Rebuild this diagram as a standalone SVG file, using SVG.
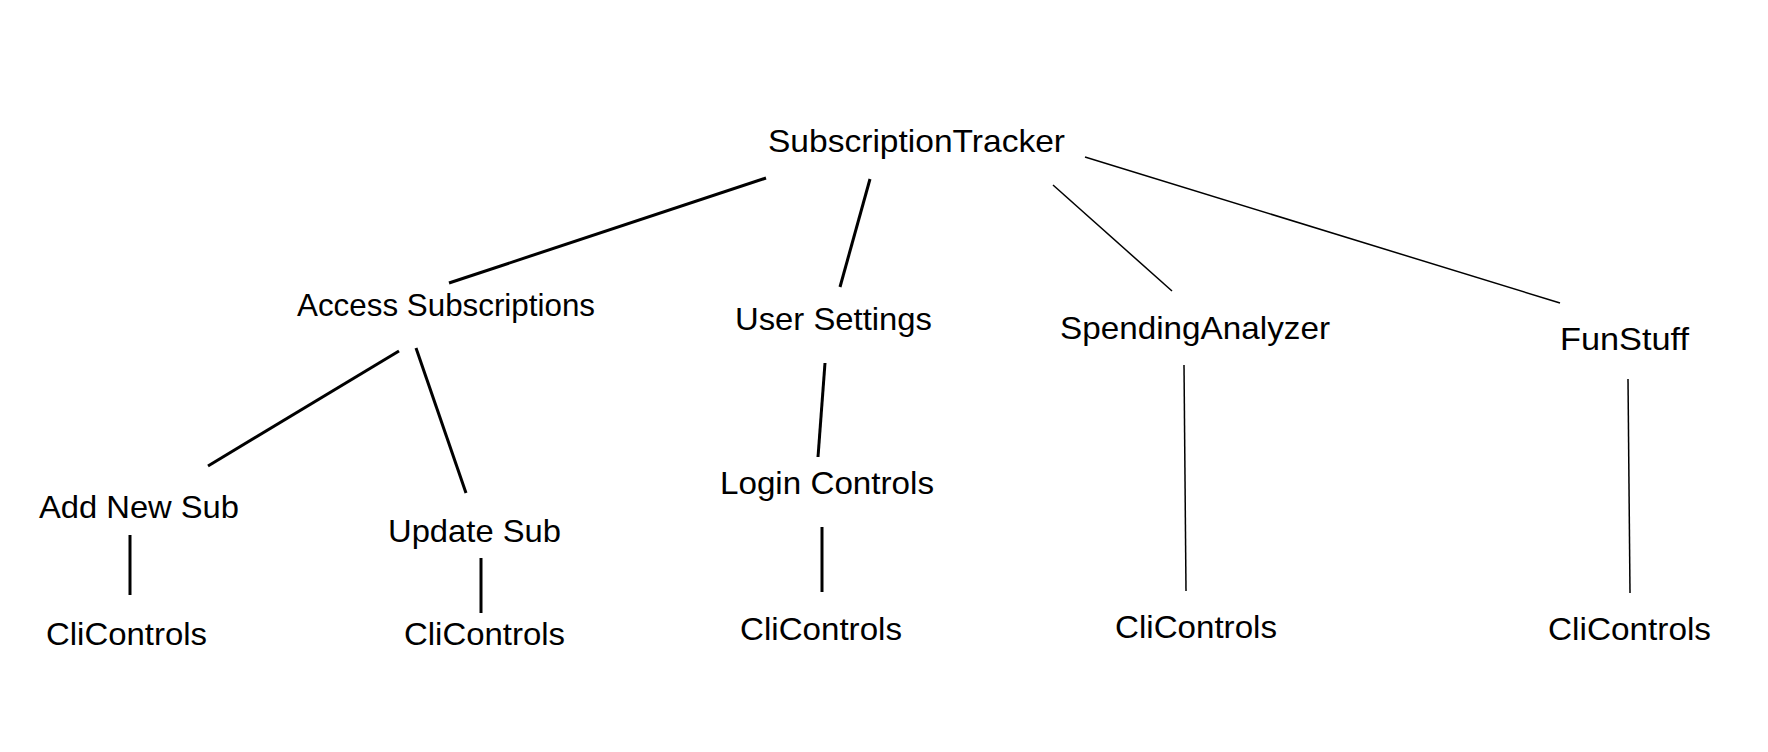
<svg xmlns="http://www.w3.org/2000/svg" width="1768" height="752" viewBox="0 0 1768 752">
<style>
.lbl{font-family:"Liberation Sans",Arial,sans-serif;font-size:32px;fill:#000}
.thick{stroke:#000;stroke-width:3;stroke-linecap:butt;fill:none}
.thin{stroke:#000;stroke-width:1.5;fill:none}
</style>
<rect width="1768" height="752" fill="#fff"/>
<g id="connectors">
<line class="thick" x1="766" y1="178" x2="449" y2="283"/>
<line class="thick" x1="870" y1="179" x2="840" y2="287"/>
<line class="thin" x1="1053" y1="185" x2="1172" y2="291"/>
<line class="thin" x1="1085" y1="157" x2="1560" y2="303"/>
<line class="thick" x1="399" y1="351" x2="208" y2="466"/>
<line class="thick" x1="416" y1="348" x2="466" y2="493"/>
<line class="thick" x1="130" y1="535" x2="130" y2="595"/>
<line class="thick" x1="481" y1="558" x2="481" y2="613"/>
<line class="thick" x1="825" y1="363" x2="818" y2="457"/>
<line class="thick" x1="822" y1="527" x2="822" y2="592"/>
<line class="thin" x1="1184" y1="365" x2="1186" y2="591"/>
<line class="thin" x1="1628" y1="379" x2="1630" y2="593"/>
</g>
<g id="n-root"><text class="lbl" x="768" y="152" textLength="297" lengthAdjust="spacingAndGlyphs">SubscriptionTracker</text></g>
<g id="n-access"><text class="lbl" x="297" y="316" textLength="298" lengthAdjust="spacingAndGlyphs">Access Subscriptions</text></g>
<g id="n-user"><text class="lbl" x="735" y="330" textLength="197" lengthAdjust="spacingAndGlyphs">User Settings</text></g>
<g id="n-spending"><text class="lbl" x="1060" y="339" textLength="270" lengthAdjust="spacingAndGlyphs">SpendingAnalyzer</text></g>
<g id="n-fun"><text class="lbl" x="1560" y="350" textLength="129" lengthAdjust="spacingAndGlyphs">FunStuff</text></g>
<g id="n-add"><text class="lbl" x="39" y="518" textLength="200" lengthAdjust="spacingAndGlyphs">Add New Sub</text></g>
<g id="n-update"><text class="lbl" x="388" y="542" textLength="173" lengthAdjust="spacingAndGlyphs">Update Sub</text></g>
<g id="n-login"><text class="lbl" x="720" y="494" textLength="214" lengthAdjust="spacingAndGlyphs">Login Controls</text></g>
<g id="n-cli1"><text class="lbl" x="46" y="645" textLength="161" lengthAdjust="spacingAndGlyphs">CliControls</text></g>
<g id="n-cli2"><text class="lbl" x="404" y="645" textLength="161" lengthAdjust="spacingAndGlyphs">CliControls</text></g>
<g id="n-cli3"><text class="lbl" x="740" y="640" textLength="162" lengthAdjust="spacingAndGlyphs">CliControls</text></g>
<g id="n-cli4"><text class="lbl" x="1115" y="638" textLength="162" lengthAdjust="spacingAndGlyphs">CliControls</text></g>
<g id="n-cli5"><text class="lbl" x="1548" y="640" textLength="163" lengthAdjust="spacingAndGlyphs">CliControls</text></g>
</svg>
